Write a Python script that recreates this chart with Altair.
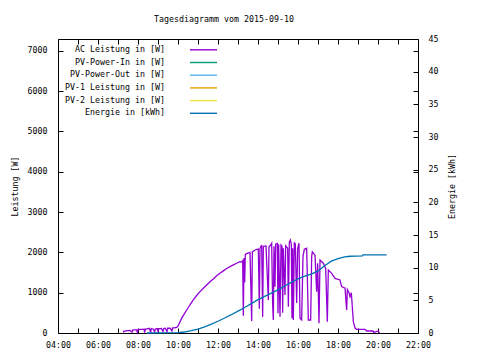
import altair as alt
import pandas as pd

FONT = "DejaVu Sans Mono"
FS = 8.3

names = ["AC Leistung in [W]", "PV-Power-In in [W]", "PV-Power-Out in [W]",
         "PV-1 Leistung in [W]", "PV-2 Leistung in [W]", "Energie in [kWh]"]
colors = ["#9400d3", "#009e73", "#56b4e9", "#e69f00", "#f0e442", "#0072b2"]

ac_time = ["07:16", "07:18", "07:24", "07:30", "07:36", "07:42", "07:44", "07:50", "07:56", "07:58",
           "08:00", "08:06", "08:12", "08:18", "08:20", "08:22", "08:28", "08:34", "08:38", "08:40",
           "08:46", "08:50", "08:52", "08:58", "09:00", "09:02", "09:10", "09:15", "09:17", "09:22",
           "09:27", "09:29", "09:36", "09:42", "09:44", "09:50", "09:56",
           "10:00", "10:06", "10:12", "10:18", "10:26", "10:36", "10:46", "10:56", "11:06", "11:16",
           "11:26", "11:36", "11:46", "11:56", "12:06", "12:16", "12:26", "12:36", "12:46", "12:56",
           "13:06", "13:11", "13:14", "13:16", "13:18", "13:20", "13:22", "13:28", "13:36", "13:41",
           "13:43", "13:48", "13:54", "14:01", "14:04", "14:06", "14:11", "14:14", "14:16", "14:24",
           "14:31", "14:33", "14:37", "14:41", "14:44", "14:46", "14:48", "14:51", "14:53", "14:58",
           "15:00", "15:02", "15:06", "15:09", "15:12", "15:14", "15:16", "15:21", "15:23", "15:29",
           "15:31", "15:34", "15:37", "15:40", "15:42", "15:44", "15:46", "15:49", "15:52", "15:56",
           "15:59", "16:03", "16:06", "16:11", "16:15", "16:19", "16:26", "16:31", "16:38", "16:41",
           "16:43", "16:51", "16:56", "16:59", "17:03", "17:06", "17:16", "17:23", "17:28", "17:31",
           "17:41", "17:51", "18:06", "18:11", "18:21", "18:26", "18:28", "18:33", "18:36", "18:40",
           "18:43", "18:46", "18:51", "18:56", "19:21", "19:26", "19:45", "19:47", "20:01", "20:04"]
ac_watt = [10, 45, 55, 60, 62, 20, 70, 75, 78, 15,
           80, 90, 92, 95, 10, 95, 105, 115, 20, 110,
           95, 30, 100, 110, 25, 105, 115, 40, 110, 120,
           30, 118, 120, 50, 125, 130, 140,
           170, 280, 380, 460, 570, 700, 820, 930, 1025, 1110,
           1190, 1270, 1340, 1420, 1480, 1540, 1600, 1645, 1690, 1730,
           1770, 1760, 1790, 430, 1860, 1250, 1950, 1976, 2000, 300,
           2010, 2040, 2070, 2080, 600, 2100, 2183, 400, 2150, 2160,
           820, 2140, 2170, 2225, 700, 320, 2150, 1150, 2200, 2220,
           488, 2200, 405, 2180, 2150, 500, 2100, 943, 2160, 2100,
           650, 2250, 2307, 2200, 364, 2100, 323, 2250, 2200, 745,
           2100, 2225, 364, 323, 1900, 2075, 2100, 322, 322, 1900,
           2015, 1930, 1025, 1730, 240, 1810, 1730, 1600, 280, 1560,
           1480, 1355, 1315, 1150, 1110, 570, 1080, 1000, 900, 1000,
           640, 280, 120, 92, 92, 50, 50, 15, 50, 0]

en_time = ["08:27", "10:00", "10:20", "10:40", "11:00", "11:20", "11:40", "12:00", "12:20", "12:40",
           "13:00", "13:20", "13:40", "14:00", "14:20", "14:40", "15:00", "15:20", "15:40", "16:00",
           "16:20", "16:40", "17:00", "17:20", "17:40", "18:00", "18:20", "18:36", "19:13", "19:15",
           "20:26"]
en_kwh = [0.0, 0.05, 0.15, 0.35, 0.6, 0.95, 1.35, 1.8, 2.3, 2.8,
          3.35, 3.9, 4.5, 5.1, 5.6, 6.1, 6.6, 7.2, 7.75, 8.3,
          8.7, 9.0, 9.5, 10.3, 11.0, 11.4, 11.65, 11.75, 11.8, 11.95,
          11.95]

w_ticks = [0, 1000, 2000, 3000, 4000, 5000, 6000, 7000]
kwh_ticks = [0, 5, 10, 15, 20, 25, 30, 35, 40, 45]
hour_ticks = list(range(4, 23))


def to_hours(s):
    h, m = s.split(":")
    return int(h) + int(m) / 60.0


ac = pd.DataFrame({"h": [to_hours(t) for t in ac_time], "v": ac_watt, "series": names[0]})
en = pd.DataFrame({"h": [to_hours(t) for t in en_time], "v": en_kwh, "series": names[5]})

xscale = alt.Scale(domain=[4, 22], nice=False, zero=False)
wscale = alt.Scale(domain=[0, 7290], nice=False)
kscale = alt.Scale(domain=[0, 45], nice=False)
cscale = alt.Scale(domain=names, range=colors)

hour_label = "datum.value % 2 == 0 ? (datum.value < 10 ? '0' : '') + datum.value + ':00' : ''"

legend = alt.Legend(title=None, orient="none", legendX=140, legendY=5.3, padding=0,
                    symbolType="M-3,0H3", symbolSize=81, symbolStrokeWidth=1.4,
                    labelAlign="right", labelOffset={"expr": "-44"}, rowPadding=3.7,
                    labelFont=FONT, labelFontSize=FS, labelColor="black")

ac_line = alt.Chart(ac).mark_line(strokeWidth=1.3).encode(
    x=alt.X("h:Q", scale=xscale,
            axis=alt.Axis(orient="bottom", values=hour_ticks, labelExpr=hour_label, offset=-5,
                          tickSize=5, domain=False, grid=False, labelPadding=7, title=None,
                          labelFlush=False, labelOverlap=False)),
    y=alt.Y("v:Q", scale=wscale,
            axis=alt.Axis(orient="left", values=w_ticks, format="d", offset=-5, tickSize=5,
                          domain=False, grid=False, labelPadding=11, title="Leistung [W]",
                          titleX=-48, titleY=147, titleBaseline="middle", titleAngle=270,
                          labelOverlap=False)),
    color=alt.Color("series:N", scale=cscale, legend=legend),
)

en_line = alt.Chart(en).mark_line(strokeWidth=1.3).encode(
    x=alt.X("h:Q", scale=xscale,
            axis=alt.Axis(orient="top", values=hour_ticks, labels=False, offset=-5, tickSize=5,
                          domain=False, grid=False, title=None)),
    y=alt.Y("v:Q", scale=kscale,
            axis=alt.Axis(orient="right", values=kwh_ticks, format="d", offset=-5, tickSize=5,
                          domain=False, grid=False, labelPadding=10, title="Energie [kWh]",
                          titleX=39, titleY=147, titleBaseline="middle", titleAngle=270,
                          labelOverlap=False)),
    color=alt.Color("series:N", scale=cscale, legend=legend),
)

mirror = alt.Chart(ac).mark_line(opacity=0).encode(
    x=alt.X("h:Q", scale=xscale, axis=None),
    y=alt.Y("v:Q", scale=wscale,
            axis=alt.Axis(orient="right", values=w_ticks, labels=False, offset=-5, tickSize=5,
                          domain=False, grid=False, title=None)),
)

chart = alt.layer(ac_line, en_line, mirror).resolve_scale(y="independent").properties(
    width=360, height=294,
    background="white",
    autosize=alt.AutoSizeParams(type="none"),
    padding={"left": 50, "top": 31, "right": 54, "bottom": 19},
    title=alt.TitleParams("Tagesdiagramm vom 2015-09-10", anchor="middle", dx=-14,
                          font=FONT, fontSize=FS, fontWeight="normal", color="black",
                          baseline="alphabetic", offset=4),
).configure_view(stroke="black", strokeWidth=1).configure_axis(
    labelFont=FONT, labelFontSize=FS, labelColor="black", titleFont=FONT, titleFontSize=FS,
    titleFontWeight="normal", titleColor="black", tickColor="black", tickWidth=1,
)

chart.save("out.html", embed_options={"renderer": "svg", "actions": False})
